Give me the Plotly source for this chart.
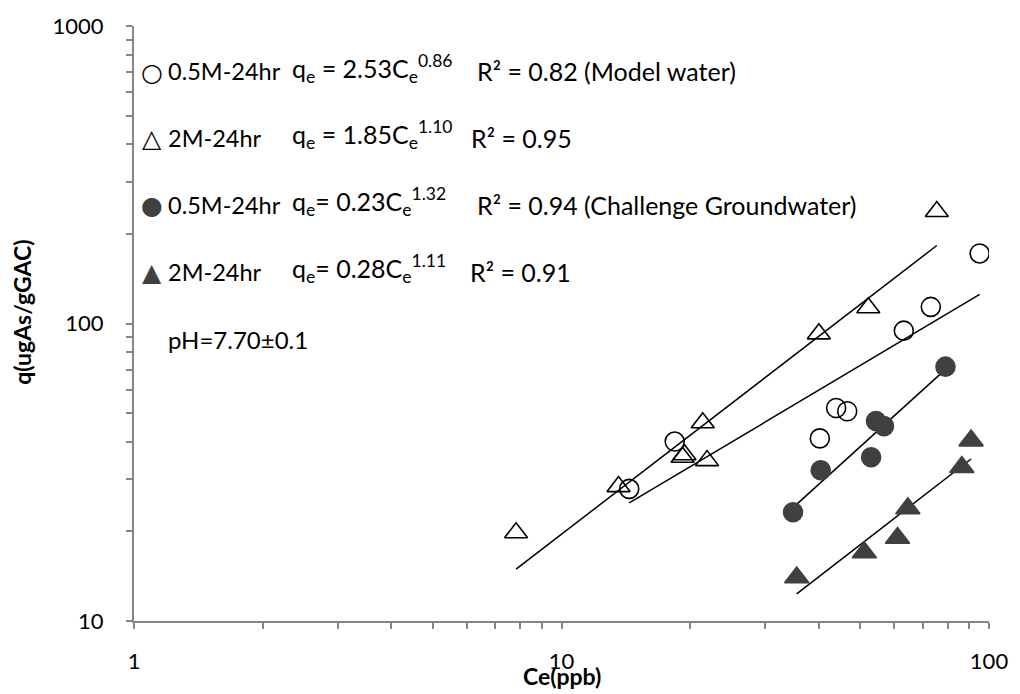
import numpy as np
import plotly.graph_objects as go

# ---- data ----
mw05_x = [14.4, 18.4, 40.2, 43.9, 46.6, 63.2, 73.1, 95.1]
mw05_y = [27.8, 40.1, 41.1, 52.0, 50.7, 94.6, 113.7, 172.0]

mw2_x = [7.83, 13.6, 19.2, 19.4, 21.4, 21.9, 40.0, 52.2, 75.5]
mw2_y = [19.8, 28.3, 35.5, 36.2, 46.4, 34.6, 92.3, 113.0, 238.0]

gw05_x = [34.8, 40.4, 53.0, 54.4, 56.8, 79.1]
gw05_y = [23.2, 32.1, 35.5, 47.0, 45.2, 71.6]

gw2_x = [35.5, 51.1, 61.1, 64.6, 86.4, 90.8]
gw2_y = [14.0, 17.0, 19.0, 23.9, 32.9, 40.4]

x_tick_vals = [1, 2, 3, 4, 5, 6, 7, 8, 9, 10, 20, 30, 40, 50, 60, 70, 80, 90, 100]
x_tick_text = ["1", "", "", "", "", "", "", "", "", "10", "", "", "", "", "", "", "", "", "100"]
y_tick_vals = [10, 20, 30, 40, 50, 60, 70, 80, 90, 100, 200, 300, 400, 500, 600, 700, 800, 900, 1000]
y_tick_text = ["10", "", "", "", "", "", "", "", "", "100", "", "", "", "", "", "", "", "", "1000"]

DARK = "#404040"
FONT = "Lato, 'Open Sans', sans-serif"

fig = go.Figure()


def power_fit(xs, ys):
    lx, ly = np.log10(xs), np.log10(ys)
    b, a = np.polyfit(lx, ly, 1)
    xe = np.array([min(xs), max(xs)])
    return xe, 10 ** (a + b * np.log10(xe))


series = [
    (mw05_x, mw05_y, "circle-open", "black", 19),
    (mw2_x, mw2_y, "triangle-up-open", "black", 20),
    (gw05_x, gw05_y, "circle", DARK, 19),
    (gw2_x, gw2_y, "triangle-up", DARK, 21),
]
for xs, ys, sym, col, sz in series:
    fx, fy = power_fit(xs, ys)
    fig.add_trace(go.Scatter(x=fx, y=fy, mode="lines",
                             line=dict(color="black", width=1.5),
                             showlegend=False, hoverinfo="skip"))
for xs, ys, sym, col, sz in series:
    fig.add_trace(go.Scatter(x=xs, y=ys, mode="markers",
                             marker=dict(symbol=sym, size=sz, color=col,
                                         line=dict(color=col, width=1.6)),
                             showlegend=False))

L, R, T, B = 134, 994, 18, 621
W, H = R - L, B - T


def px(x):
    return (x - L) / W


def py(y):
    return (B - y) / H


def txt(x, y, s, size=25, anchor="left", color="black", fam=FONT):
    fig.add_annotation(x=px(x), y=py(y), xref="paper", yref="paper", text=s,
                       showarrow=False, xanchor=anchor, yanchor="middle",
                       font=dict(size=size, color=color, family=fam))


rows = [
    (64, "○", "black", "0.5M-24hr", "q<sub>e</sub> = 2.53C<sub>e</sub><sup>0.86</sup>", 477, "R² = 0.82 (Model water)"),
    (131, "△", "black", "2M-24hr", "q<sub>e</sub> = 1.85C<sub>e</sub><sup>1.10</sup>", 471, "R² = 0.95"),
    (199, "●", DARK, "0.5M-24hr", "q<sub>e</sub>= 0.23C<sub>e</sub><sup>1.32</sup>", 477, "R² = 0.94 (Challenge Groundwater)"),
    (267, "▲", DARK, "2M-24hr", "q<sub>e</sub>= 0.28C<sub>e</sub><sup>1.11</sup>", 470, "R² = 0.91"),
]
for y, g, gc, lab, eq, rx, r2 in rows:
    txt(152, y + 1, g, size=25, anchor="center", color=gc, fam="DejaVu Sans")
    txt(166, y, lab, size=23.5)
    txt(291, y - 3, eq)
    txt(rx, y, r2, size=25)
txt(166, 336, "pH=7.70±0.1", size=24)

# axis titles
fig.add_annotation(x=px(22), y=py(308), xref="paper", yref="paper",
                   text="<b>q(ugAs/gGAC)</b>", textangle=-90, showarrow=False,
                   xanchor="center", yanchor="middle",
                   font=dict(size=23, color="black", family=FONT))
fig.add_annotation(x=px(565), y=py(677), xref="paper", yref="paper",
                   text="<b>Ce(ppb)</b>", showarrow=False,
                   xanchor="center", yanchor="middle",
                   font=dict(size=23, color="black", family=FONT))

axis_common = dict(type="log", showgrid=False, zeroline=False, showline=True,
                   linecolor="#868686", linewidth=2, ticks="outside",
                   ticklen=6, tickwidth=1.5, tickcolor="#868686",
                   tickfont=dict(size=22, color="black", family=FONT),
                   tickmode="array")
fig.update_xaxes(range=[0, 2], tickvals=x_tick_vals, ticktext=x_tick_text,
                 ticklabelstandoff=14, **axis_common)
fig.update_yaxes(range=[1, 3], tickvals=y_tick_vals, ticktext=y_tick_text,
                 ticklabelstandoff=18, **axis_common)

fig.update_layout(width=1020, height=694,
                  margin=dict(l=L, r=1020 - R, t=T, b=694 - B),
                  paper_bgcolor="white", plot_bgcolor="white",
                  showlegend=False)

fig.write_html("out.html")
